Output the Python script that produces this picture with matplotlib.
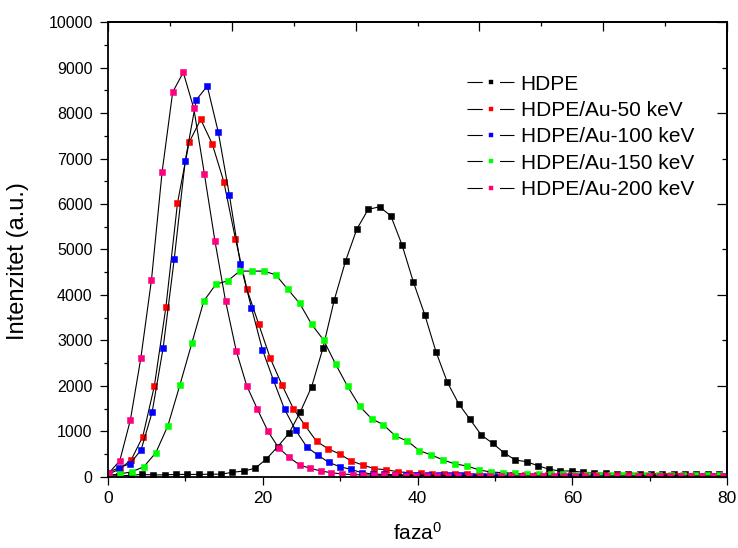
import matplotlib
matplotlib.use("Agg")
import matplotlib.pyplot as plt
from matplotlib.lines import Line2D
from matplotlib.ticker import MultipleLocator

plt.rcParams['font.family'] = ['Liberation Sans', 'DejaVu Sans']
plt.rcParams['mathtext.fontset'] = 'custom'
plt.rcParams['mathtext.rm'] = 'Liberation Sans'
plt.rcParams['mathtext.it'] = 'Liberation Sans'
plt.rcParams['lines.scale_dashes'] = False

# ---------------- data ----------------
labels = ['HDPE', 'HDPE/Au-50 keV', 'HDPE/Au-100 keV', 'HDPE/Au-150 keV', 'HDPE/Au-200 keV']
colors = ['#000000', '#FF0000', '#0000FF', '#00FF00', '#FF0080']

x_hdpe = [0, 1.46, 2.92, 4.39, 5.85, 7.31, 8.77, 10.23, 11.70, 13.16, 14.62, 16.08, 17.54, 19.01,
          20.47, 21.93, 23.39, 24.85, 26.32, 27.78, 29.24, 30.70, 32.16, 33.63, 35.09, 36.55, 38.01,
          39.47, 40.94, 42.40, 43.86, 45.32, 46.78, 48.25, 49.71, 51.17, 52.63, 54.09, 55.56, 57.02,
          58.48, 59.94, 61.40, 62.87, 64.33, 65.79, 67.25, 68.71, 70.18, 71.64, 73.10, 74.56, 76.02,
          77.49, 78.95]
y_hdpe = [20, 20, 30, 50, 40, 40, 50, 50, 50, 55, 55, 97, 125, 185, 389, 660, 955, 1423, 1980,
          2831, 3887, 4745, 5449, 5883, 5940, 5742, 5097, 4283, 3564, 2743, 2077, 1606, 1263, 917,
          735, 528, 367, 330, 242, 163, 125, 125, 97, 88, 75, 70, 70, 65, 65, 60, 60, 60, 55, 55, 50]

x_au50 = [0, 1.50, 2.99, 4.49, 5.99, 7.49, 8.98, 10.48, 11.98, 13.47, 14.97, 16.47, 17.96, 19.46,
          20.96, 22.46, 23.95, 25.45, 26.95, 28.44, 29.94, 31.44, 32.93, 34.43, 35.93, 37.43, 38.92,
          40.42, 41.92, 43.41, 44.91, 46.41, 47.90, 49.40, 50.90, 52.40, 53.89, 55.39, 56.89, 58.38,
          59.88, 61.38, 62.87, 64.37, 65.87, 67.37, 68.86, 70.36, 71.86, 73.35, 74.85, 76.35, 77.84,
          79.34]
y_au50 = [50, 170, 367, 880, 1995, 3740, 6021, 7357, 7863, 7326, 6490, 5234, 4123, 3366, 2611,
          2028, 1500, 1131, 779, 616, 499, 345, 257, 176, 154, 110, 88,
          75, 65, 60, 55, 50, 45, 45, 40, 40, 40, 35, 35, 35, 30, 30, 30, 30, 30, 30,
          25, 25, 25, 25, 25, 25, 25, 25]

x_au100 = [0, 1.43, 2.85, 4.28, 5.70, 7.13, 8.56, 9.98, 11.41, 12.83, 14.26, 15.69, 17.11, 18.54,
           19.96, 21.39, 22.82, 24.24, 25.67, 27.09, 28.52, 29.95, 31.37, 32.80, 34.22, 35.65,
           37.08, 38.50, 39.93, 41.35, 42.78, 44.21, 45.63, 47.06, 48.48, 49.91, 51.34, 52.76,
           54.19, 55.61, 57.04, 58.47, 59.89, 61.32, 62.74, 64.17, 65.60, 67.02, 68.45, 69.87,
           71.30, 72.73, 74.15, 75.58, 77.00, 78.43, 79.86]
y_au100 = [90, 200, 285, 590, 1417, 2838, 4789, 6952, 8294, 8595, 7577, 6197, 4679, 3718, 2794,
           2121, 1483, 1027, 660, 477, 317, 220, 163, 88, 60,
           50, 45, 40, 35, 35, 30, 30, 30, 25, 25, 25, 25, 25,
           20, 20, 20, 20, 20, 20, 20, 20, 20, 20, 20, 20, 20, 20, 20, 20, 20, 20, 20]

x_au150 = [0, 1.55, 3.10, 4.64, 6.19, 7.74, 9.29, 10.84, 12.38, 13.93, 15.48, 17.03, 18.58, 20.12,
           21.67, 23.22, 24.77, 26.32, 27.86, 29.41, 30.96, 32.51, 34.06, 35.60, 37.15, 38.70,
           40.25, 41.80, 43.34, 44.89, 46.44, 47.99, 49.54, 51.08, 52.63, 54.18, 55.73, 57.28,
           58.82, 60.37, 61.92, 63.47, 65.02, 66.56, 68.11, 69.66, 71.21, 72.76, 74.30, 75.85,
           77.40, 78.95]
y_au150 = [30, 60, 110, 220, 530, 1122, 2017, 2941, 3865, 4233, 4312, 4525, 4525, 4525, 4444,
           4129, 3815, 3353, 3007, 2479, 1989, 1555, 1276, 1144, 895, 785, 572, 477, 367, 279,
           235, 147, 103, 88, 75, 60,
           55, 50, 50, 45, 45, 40, 40, 40, 35, 35, 35, 35, 30, 30, 30, 30]

x_au200 = [0.15, 1.52, 2.89, 4.25, 5.62, 6.99, 8.36, 9.73, 11.09, 12.46, 13.83, 15.20, 16.57,
           17.93, 19.30, 20.67, 22.04, 23.41, 24.77, 26.14, 27.51, 28.88, 30.25, 31.61, 32.98,
           34.35, 35.72, 37.09, 38.45, 39.82, 41.19, 42.56, 43.93, 45.29, 46.66, 48.03, 49.40,
           50.77, 52.13, 53.50, 54.87, 56.24, 57.61, 58.97, 60.34, 61.71, 63.08, 64.45, 65.81,
           67.18, 68.55, 69.92, 71.29, 72.65, 74.02, 75.39, 76.76, 78.13, 79.49]
y_au200 = [88, 350, 1247, 2618, 4334, 6703, 8463, 8897, 8105, 6659, 5179, 3859, 2772, 2002, 1489,
           999, 638, 427, 257, 185, 125, 88, 60,
           45, 40, 35, 30, 30, 25, 25, 25, 20, 20, 20, 20, 20, 20,
           15, 15, 15, 15, 15, 15, 15, 15, 15, 15, 15, 15, 15, 15, 15, 15, 15, 15, 15, 15, 15, 15]

series_x = [x_hdpe, x_au50, x_au100, x_au150, x_au200]
series_y = [y_hdpe, y_au50, y_au100, y_au150, y_au200]

# ---------------- figure ----------------
fig = plt.figure(figsize=(7.38, 5.48), dpi=100)
ax = fig.add_axes([108 / 738, 1 - 476.7 / 548, 619 / 738, 454.4 / 548])

for xs, ys, c in zip(series_x, series_y, colors):
    ax.plot(xs, ys, '-', color='k', lw=0.8, marker='s', ms=4.0,
            mfc=c, mec=c, mew=0.4)

ax.set_xlim(0, 80)
ax.set_ylim(0, 10000)

ax.xaxis.set_major_locator(MultipleLocator(20))
ax.xaxis.set_minor_locator(MultipleLocator(10))
ax.yaxis.set_major_locator(MultipleLocator(1000))
ax.yaxis.set_minor_locator(MultipleLocator(500))

ax.tick_params(axis='x', which='major', direction='out', length=6, width=0.9,
               labelsize=12.5, pad=4, top=False)
ax.tick_params(axis='x', which='minor', direction='out', length=3, width=0.9, top=False)
ax.tick_params(axis='y', which='major', direction='out', length=6, width=0.9,
               labelsize=11.5, pad=5, right=False)
ax.tick_params(axis='y', which='minor', direction='out', length=3, width=0.9, right=False)

for sp in ax.spines.values():
    sp.set_linewidth(1.3)

# top and right mirror axes (different tick spacing)
top = ax.secondary_xaxis('top')
top.xaxis.set_major_locator(MultipleLocator(16))
top.xaxis.set_minor_locator(MultipleLocator(8))
top.tick_params(which='major', direction='in', length=6.5, width=0.9, labeltop=False)
top.tick_params(which='minor', direction='in', length=3, width=0.9)
top.spines['top'].set_linewidth(1.3)

right = ax.secondary_yaxis('right')
right.yaxis.set_major_locator(MultipleLocator(2000))
right.yaxis.set_minor_locator(MultipleLocator(1000))
right.tick_params(which='major', direction='in', length=7, width=0.9, labelright=False)
right.tick_params(which='minor', direction='in', length=3.5, width=0.9)
right.spines['right'].set_linewidth(1.3)

ax.set_xlabel('faza$^{0}$', fontsize=15)
ax.set_ylabel('Intenzitet (a.u.)', fontsize=17)
ax.xaxis.set_label_coords(0.5008, -0.100)
ax.yaxis.set_label_coords(-0.128, 0.475)

handles = []
for c in colors:
    ln = Line2D([], [], color='k', lw=0.8, ls=(0, (11.0, 12.4)))
    mk = Line2D([], [], ls='none', marker='s', ms=3.2, mfc=c, mec=c, mew=0.3)
    handles.append((ln, mk))

fig.legend(handles, labels, loc='upper left', bbox_to_anchor=(467 / 738, 1 - 74.5 / 548),
           frameon=False, fontsize=15, handlelength=2.27, handletextpad=0.3,
           labelspacing=0.355, borderpad=0, borderaxespad=0)

fig.savefig('out.png', dpi=100)
